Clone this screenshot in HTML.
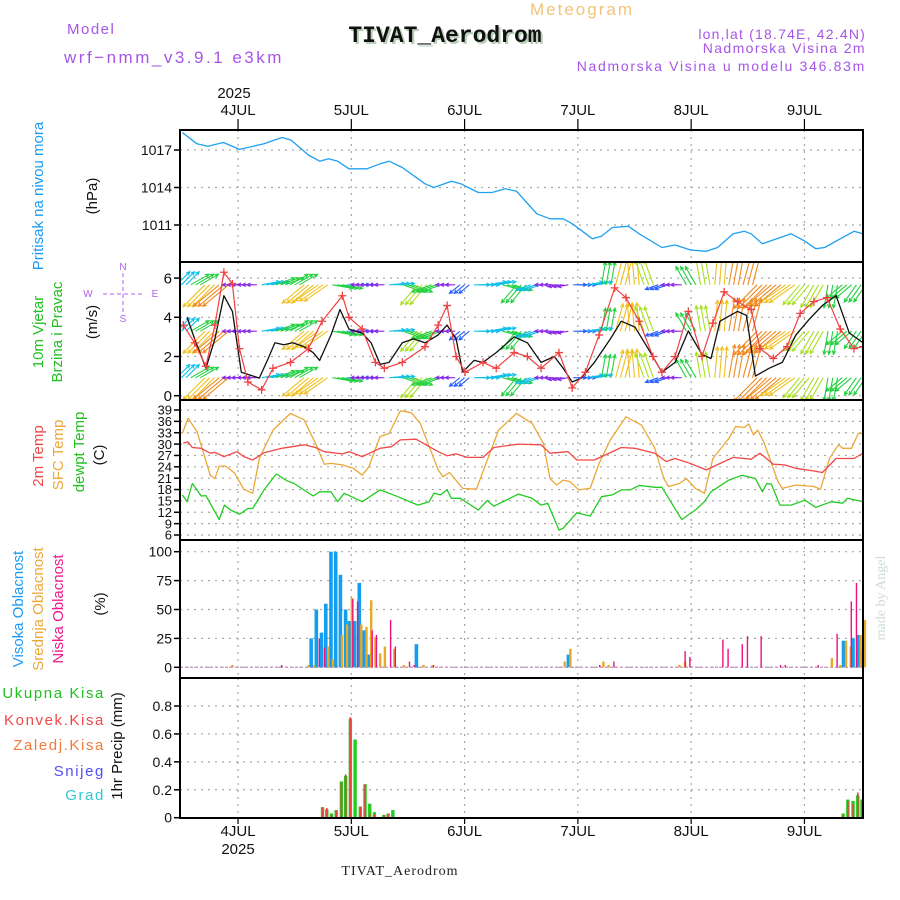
<!DOCTYPE html>
<html><head><meta charset="utf-8">
<style>
html,body{margin:0;padding:0;background:#fff;}
svg{display:block;font-family:"Liberation Sans",sans-serif;}
</style></head>
<body>
<svg id="chart" width="900" height="900" viewBox="0 0 900 900" xmlns="http://www.w3.org/2000/svg">
<defs>
<clipPath id="clipWind"><rect x="181" y="263" width="681" height="136"/></clipPath>
</defs>
<g>
<text x="582" y="15" font-size="17" fill="#f2c47a" text-anchor="middle" letter-spacing="2">Meteogram</text>
<text x="67" y="34" font-size="15" fill="#a655e8" letter-spacing="1.5">Model</text>
<text x="64" y="63" font-size="17" fill="#a655e8" letter-spacing="2.5">wrf−nmm_v3.9.1 e3km</text>
<text x="447" y="44" font-size="23" font-weight="bold" fill="#b8d0b8" text-anchor="middle" font-family="Liberation Mono, monospace">TIVAT_Aerodrom</text>
<text x="445" y="42" font-size="23" font-weight="bold" fill="#111" text-anchor="middle" font-family="Liberation Mono, monospace">TIVAT_Aerodrom</text>
<text x="866" y="39" font-size="14" fill="#a655e8" text-anchor="end" letter-spacing="1.2">lon,lat (18.74E, 42.4N)</text>
<text x="866" y="53" font-size="14" fill="#a655e8" text-anchor="end" letter-spacing="1.4">Nadmorska Visina 2m</text>
<text x="866" y="71" font-size="14" fill="#a655e8" text-anchor="end" letter-spacing="1.7">Nadmorska Visina u modelu 346.83m</text>
<text x="400" y="875" font-size="14" fill="#222" text-anchor="middle" font-family="Liberation Serif, serif" letter-spacing="1">TIVAT_Aerodrom</text>
<text transform="translate(885,598) rotate(-90)" font-size="14" fill="#cfdccf" text-anchor="middle" font-family="Liberation Serif, serif">made by Angel</text>
</g>
<g font-size="15">
<text transform="translate(43,196) rotate(-90)" fill="#1e9cf5" text-anchor="middle">Pritisak na nivou mora</text>
<text transform="translate(97,196) rotate(-90)" fill="#111" text-anchor="middle">(hPa)</text>
<text transform="translate(43,332) rotate(-90)" fill="#22c022" text-anchor="middle">10m Vjetar</text>
<text transform="translate(62,332) rotate(-90)" fill="#22c022" text-anchor="middle">Brzina i Pravac</text>
<text transform="translate(97,322) rotate(-90)" fill="#111" text-anchor="middle">(m/s)</text>
<g fill="#b060f0" stroke="none" font-size="10" text-anchor="middle">
<text x="123" y="270">N</text><text x="123" y="322">S</text><text x="88" y="297">W</text><text x="155" y="297">E</text>
<line x1="123" y1="273" x2="123" y2="313" stroke="#b060f0" stroke-dasharray="4,3"/>
<line x1="103" y1="294" x2="143" y2="294" stroke="#b060f0" stroke-dasharray="4,3"/>
</g>
<text transform="translate(43,456) rotate(-90)" fill="#f04848" text-anchor="middle">2m Temp</text>
<text transform="translate(63,455) rotate(-90)" fill="#eaaa3a" text-anchor="middle">SFC Temp</text>
<text transform="translate(84,452) rotate(-90)" fill="#22c022" text-anchor="middle">dewpt Temp</text>
<text transform="translate(104,455) rotate(-90)" fill="#111" text-anchor="middle">(C)</text>
<text transform="translate(23,609) rotate(-90)" fill="#1e9cf5" text-anchor="middle">Visoka Oblacnost</text>
<text transform="translate(43,609) rotate(-90)" fill="#eaaa3a" text-anchor="middle">Srednja Oblacnost</text>
<text transform="translate(63,609) rotate(-90)" fill="#ee1a8a" text-anchor="middle">Niska Oblacnost</text>
<text transform="translate(105,604) rotate(-90)" fill="#111" text-anchor="middle">(%)</text>
<text x="105" y="698" fill="#22c022" text-anchor="end" letter-spacing="1.6">Ukupna Kisa</text>
<text x="105" y="725" fill="#f04848" text-anchor="end" letter-spacing="1.6">Konvek.Kisa</text>
<text x="105" y="750" fill="#f57a3a" text-anchor="end" letter-spacing="1.6">Zaledj.Kisa</text>
<text x="105" y="776" fill="#5050f0" text-anchor="end" letter-spacing="1.6">Snijeg</text>
<text x="105" y="800" fill="#30c8d0" text-anchor="end" letter-spacing="1.6">Grad</text>
<text transform="translate(122,746) rotate(-90)" fill="#111" text-anchor="middle">1hr Precip (mm)</text>
</g>
<g id="plot"></g>
</svg>
<script>
// ---- data (t = hours since 3 JUL 12:00) ----
const dayLabels = ['4JUL','5JUL','6JUL','7JUL','8JUL','9JUL'];
const dayHours = [12,36,60,84,108,132];
const pressTicks = [1011,1014,1017];
const windTicks = [0,2,4,6];
const tempTicks = [6,9,12,15,18,21,24,27,30,33,36,39];
const cloudTicks = [0,25,50,75,100];
const precipTicks = [0,0.2,0.4,0.6,0.8];
const precipTickLabels = ['0','0.2','0.4','0.6','0.8'];

const pT = [0.2,3.3,5.6,8.9,12.3,17.5,21.3,23.2,26.9,29.3,31.2,33.1,35.5,39.3,42.1,44,46.8,51.6,53.5,57.2,59.2,62.9,65.8,68.6,71,75.3,78.1,80.9,82.8,87.1,89,91.3,94.7,97,101.8,104.6,107.9,111.2,113.6,116.9,119.3,120.7,123.1,129.2,132.1,134.4,136.3,139.6,142.5,144.4];
const pV = [1018.4,1017.5,1017.3,1017.6,1017.05,1017.5,1018,1017.8,1016.6,1016.1,1016.3,1016.1,1015.5,1015.5,1015.9,1016.1,1015.6,1014.3,1014,1014.5,1014.3,1013.6,1013.6,1013.9,1013.7,1011.9,1011.5,1011.5,1011.1,1009.9,1010.1,1010.8,1010.9,1010.3,1009.2,1009.4,1009.0,1008.9,1009.2,1010.3,1010.5,1010.3,1009.5,1010.3,1009.7,1009.1,1009.2,1009.9,1010.5,1010.3];

const spdT = [1.2,2.8,5.2,7.1,9,10.8,12.7,16.5,18.4,19.8,21.7,23.6,26,27.9,29.3,31.7,33.6,35.5,38.3,40.2,42.1,44,46.8,49.2,51.6,54.4,56.3,58.2,59.6,62,63.9,66.7,70.5,73.3,76.2,79,80.9,82.8,84.7,87.5,90.9,93.2,96.1,98.9,101.8,104.6,107.4,110.3,112.2,114.1,117.8,119.7,121.6,124.5,127.3,130.2,133,135.8,138.7,141.5,144.4];
const spdV = [4.0,2.9,1.4,2.9,5.1,4.3,1.2,0.9,1.9,2.7,2.6,2.7,2.5,2.2,1.8,3.1,4.4,3.4,3.2,2.7,1.6,1.7,2.7,2.9,2.7,3.1,3.6,2.9,1.2,1.8,1.7,2.2,3.0,2.7,1.7,2.0,1.4,0.7,0.9,1.7,2.9,3.8,3.5,2.4,1.2,1.7,3.3,2.1,1.9,3.8,4.3,4.1,1.0,1.4,1.7,3.1,3.9,4.6,5.1,3.2,2.7];
const gustT = [0.4,2.8,5.2,7.1,9,10.8,12.3,14.1,17,19.4,23.1,26.9,29.8,34.1,35.5,38.3,41.1,43,46.8,51.6,54.4,56.3,58.2,60.1,63.9,66.7,70.5,73.3,76.2,80,82.8,85.6,88.5,91.8,94.2,97,99.9,101.8,104.6,107.4,110.3,112.6,115,117.8,120.7,122.6,125.4,128.3,131.1,134,136.8,139.6,142.5,144.4];
const gustV = [3.6,2.7,1.5,3.6,6.3,5.7,2.4,0.7,0.3,1.4,1.7,2.4,3.8,5.1,4.0,3.4,1.7,1.4,1.7,2.5,3.6,4.6,2.0,1.2,1.7,1.4,2.2,2.0,1.4,2.2,0.4,1.2,3.1,5.5,5.0,3.8,2.0,1.2,2.0,4.3,2.0,3.7,5.3,4.8,4.4,2.4,1.9,2.5,4.2,4.8,5.0,3.4,2.4,2.5];

const windT = [0,3,6,9,12,15,18,21,24,27,30,33,36,39,42,45,48,51,54,57,60,63,66,69,72,75,78,81,84,87,90,93,96,99,102,105,108,111,114,117,120,123,126,129,132,135,138,141,144];
const windDir = [45,30,225,220,180,180,10,20,30,220,215,-10,0,180,180,5,-20,230,200,180,220,0,10,-15,230,200,180,190,0,10,80,75,95,110,200,180,120,100,85,80,75,225,220,215,230,240,260,220,235];
const windSpd = [2.5,3,5,5.5,1,0.8,2.5,2.8,3,4.5,4.5,3,2.5,0.8,0.8,2,3,4,3,0.8,1.5,2,2.5,3,3.5,2,0.8,1,1.5,2,3.5,4.5,4.5,4,1.5,1,3,4,5,5.5,5.5,5.5,5.5,5,4,4,3.5,3,3];
const windRows = [5.66,3.29,0.92];

const t2T = [0.4,1.4,2.3,4.2,6.1,7.1,9,11.8,13.2,15.1,17.5,21.3,26,28.4,30.3,34.1,35.5,38.3,42.1,44.5,46.4,49.7,54.4,56.3,58.2,60.6,63.9,66.2,71.4,76.2,78.1,81.9,83.8,87.5,93.2,96.1,100.3,102.7,104.6,107.4,111.2,116.9,120.7,122.6,125.4,127.8,130.2,134,135.8,138.7,142.5,144.4];
const t2V = [30.2,30.6,29.1,28.9,27.6,27.8,26.7,28,26.7,25.8,27.7,28.9,29.8,29.1,28,27.4,28,26.7,28.9,29.3,31.1,31.3,28,26.9,27.4,26.5,26.5,29.1,30,29.8,27.6,28,25.8,25.8,29.1,28.9,27.6,25.4,26.2,25.1,23.2,26.5,26,27.6,24.7,24.5,23.6,22.9,22.5,26.2,26.2,27.6];
const sfcT = [0.2,1.4,3.3,6.1,7.1,8,9.4,11.3,13.2,15.1,16.5,19.4,23.1,26,28.4,30.3,31.7,34.1,36.4,38.3,39.7,42.1,44,46.4,48.7,50.6,54.4,55.4,56.8,59.6,62.5,64.8,67.2,71,74.3,76.7,78.1,79.5,80.9,82.3,84.2,86.6,88.5,90.9,94.2,97.5,100.3,102.2,103.2,105.5,107,108.9,110.8,112.6,116,117.4,119.3,120.2,121.2,122.1,123.5,126.4,127.3,130.2,134,135.4,137.3,139.2,140.1,142,143.4,144.4];
const sfcV = [32.8,36.8,33.3,21.8,20.9,24.2,24.2,22.3,18.1,17,26.2,33.7,38.1,36.4,30.2,24.7,24.9,24.5,23.6,21.8,24,32,32.8,38.8,38.3,35.5,23.2,21.4,22.5,18.3,18.1,25.8,33.7,38.1,35.5,30.2,20.9,19.2,20.5,20.1,17.9,18.3,24.9,31.1,37.2,35,28.9,20.9,18.8,19.6,20.9,18.3,17,26.2,31.5,34.6,34.4,35.3,32.4,33.7,30.2,20.1,18.3,19.2,18.8,18.1,26.2,29.8,28.9,28.9,32.8,32.8];
const dewT = [0.2,1.2,2.3,4.2,5.2,8,9.1,10.4,12.3,14.1,15.1,17.5,20.1,22.4,23.9,27.9,29.3,31.7,33.1,34.5,38.3,42.1,45.9,50.1,52.5,53.5,54.9,56.3,57.2,59.1,62.9,64.8,66.2,71.4,74.3,76.2,77.6,80,80.9,83.8,86.6,89,91.3,93.2,95.1,97,100.3,101.8,106,108.9,110.8,112.2,116,118.8,121.6,123.1,124,125,126.8,129.2,132.1,134.4,137.7,140.1,141.1,144.4];
const dewV = [16.6,14.8,19.6,16.3,16.4,10.1,13.9,12.6,11.5,13,13,17.9,22.1,20.3,19.6,16.3,17.4,17.4,14.8,17,14.8,17.9,16.1,13.9,14.8,17,16.6,17.9,15.7,15.7,12.6,15.1,13.6,16.8,15.7,13.9,14.4,7.3,7.8,11.9,11,16.1,16.6,17.9,17.9,19.1,18.6,18.6,10.1,12.6,14.8,17.4,20.5,21.8,20.9,17.4,19.6,19.4,13.9,13.9,15.2,13.3,14.8,14.4,15.7,14.8];

const highT = [27.7,28.8,29.9,30.8,31.9,32.9,33.9,35,35.8,36.9,37.9,38.9,39.8,50,82.2,140.5,142.5,143.6,144.5];
const highV = [25,50,30,55,100,100,80,50,40,40,73,32,11,20,11,23,25,28,15];
const midT = [10.6,26.7,27.9,30.9,31.9,33.8,34.9,35.9,37.9,39,40,40.9,41.9,42.9,44.9,46.9,51.1,53,81,82.2,89.2,90.3,105.3,106.5,137.6,139.4,140.6,141.6,143.7,144.6];
const midV = [2,2,2,18,7,28,37,60,37,35,58,26,12,18,16,2,2,2,5,16,5,2,2,5,8,2,23,18,28,41];
const lowT = [20.8,28.8,29.9,35.9,36.9,40,40.9,43.9,44.9,47.9,48.9,53,88.2,91.2,106.3,107.3,114.3,115.4,118.4,119.5,122.4,126.5,127.5,134.5,138.5,141.5,142.6];
const lowV = [2,25,17,59,57,32,28,41,18,5,2,2,2,5,14,9,24,16,20,27,27,2,2,2,29,57,73];

const rainT = [29.9,30.8,31.8,32.8,33.9,34.8,35.8,36.8,37.9,38.9,39.9,40.9,42.9,43.8,44.8,140.2,141.2,142.3,143.3,144.2];
const rainTotal = [0.075,0.06,0.03,0.055,0.26,0.3,0.71,0.56,0.08,0.24,0.1,0.04,0.02,0.03,0.055,0.03,0.13,0.12,0.16,0.13];
const rainConv = [0.075,0.07,0.02,0.05,0.25,0.31,0.72,0.0,0.08,0.24,0.03,0.02,0.02,0.03,0.0,0.02,0.12,0.1,0.18,0.12];

// ---- geometry ----
const X0 = 181.4, XPH = 4.72, XL = 180, XR = 863;
const xs = t => X0 + t * XPH;
const yP = p => 150 + (1017 - p) * 12.5;
const yW = v => 395.7 - v * 19.6;
const yT = c => 410 + (39 - c) * 3.788;
const yC = c => 667.3 - c * 1.156;
const yR = r => 817.7 - r * 139.6;
const panels = [
  {name:'pressure-panel', y0:130, y1:262},
  {name:'wind-panel', y0:262, y1:400},
  {name:'temperature-panel', y0:400, y1:540},
  {name:'cloud-panel', y0:540, y1:678},
  {name:'precip-panel', y0:678, y1:818}
];

const NS = 'http://www.w3.org/2000/svg';
const plot = document.getElementById('plot');
function mk(tag, attrs, parent) {
  const el = document.createElementNS(NS, tag);
  for (const k in attrs) el.setAttribute(k, attrs[k]);
  (parent || plot).appendChild(el);
  return el;
}
function gEl(name) {
  const g = mk('g', {});
  
  
  return g;
}
function poly(ts, vs, yf, color, name, w, parent) {
  const pts = ts.map((t, i) => xs(t).toFixed(1) + ',' + yf(vs[i]).toFixed(1)).join(' ');
  const el = mk('polyline', {points: pts, fill: 'none', stroke: color, 'stroke-width': w || 1.3, 'stroke-linejoin': 'round'}, parent);
  
  
  return el;
}

// grids
const grid = gEl('grid');
panels.forEach(p => {
  dayHours.forEach(h => {
    const l = mk('line', {x1: xs(h), x2: xs(h), y1: p.y0, y2: p.y1, stroke: '#a8a8a8', 'stroke-width': 1.2, 'stroke-dasharray': '2,5'}, grid);
    
    
  });
});
function hgrid(ticks, yf, labels, fs, name) {
  const g = gEl(name);
  ticks.forEach((v, i) => {
    const y = yf(v);
    const l = mk('line', {x1: XL, x2: XR, y1: y, y2: y, stroke: '#a8a8a8', 'stroke-width': 1.2, 'stroke-dasharray': '2,5'}, g);
    
    
    const tk = mk('line', {x1: XL - 6, x2: XL, y1: y, y2: y, stroke: '#000', 'stroke-width': 1.5}, g);
    
    
    const tx = mk('text', {x: XL - 8, y: y + fs * 0.36, 'font-size': fs, 'text-anchor': 'end', fill: '#111'}, g);
    
    
    tx.textContent = labels ? labels[i] : String(v);
  });
}
hgrid(pressTicks, yP, null, 14, 'pressure-y-axis');
hgrid(windTicks, yW, null, 15, 'wind-y-axis');
hgrid(tempTicks, yT, null, 13, 'temperature-y-axis');
hgrid(cloudTicks, yC, null, 14, 'cloud-y-axis');
hgrid(precipTicks, yR, precipTickLabels, 14, 'precip-y-axis');

// pressure
poly(pT, pV, yP, '#1ea0f2', 'pressure-line', 1.3);

// wind arrows
const windG = gEl('wind-arrows');
windG.setAttribute('clip-path', 'url(#clipWind)');
function spdColor(s) {
  if (s < 1.2) return '#8a28e8';
  if (s < 2) return '#2860ff';
  if (s < 2.8) return '#10c0e8';
  if (s < 3.6) return '#22d040';
  if (s < 4.4) return '#a8e020';
  if (s < 5.2) return '#f0c020';
  return '#f08a20';
}
windRows.forEach(rv => {
  const y = yW(rv);
  windT.forEach((t, i) => {
    const len = 6 + windSpd[i] * 5;
    const a = windDir[i] * Math.PI / 180;
    const col = spdColor(windSpd[i]);
    [-1, 0, 1].forEach(off => {
      const x = xs(t + off);
      const x2 = x + Math.cos(a) * len, y2 = y - Math.sin(a) * len;
      const h1 = a + Math.PI - 0.45, h2 = a + Math.PI + 0.45;
      const ar = mk('path', {d: 'M' + x.toFixed(1) + ',' + y.toFixed(1) + 'L' + x2.toFixed(1) + ',' + y2.toFixed(1) +
        'M' + (x2 + Math.cos(h1) * 4).toFixed(1) + ',' + (y2 - Math.sin(h1) * 4).toFixed(1) + 'L' + x2.toFixed(1) + ',' + y2.toFixed(1) +
        'L' + (x2 + Math.cos(h2) * 4).toFixed(1) + ',' + (y2 - Math.sin(h2) * 4).toFixed(1),
        stroke: col, 'stroke-width': 1.1, fill: 'none'}, windG);
      
      
    });
  });
});
const wl = gEl('wind-lines');
wl.setAttribute('clip-path', 'url(#clipWind)');
poly(spdT, spdV, yW, '#111', 'wind-speed-line', 1.3, wl);
poly(gustT, gustV, yW, '#f04040', 'wind-gust-line', 1.2, wl);
gustT.forEach((t, i) => {
  const x = xs(t), y = yW(gustV[i]);
  const m = mk('path', {d: 'M' + (x - 4) + ',' + y + 'h8M' + x + ',' + (y - 4) + 'v8', stroke: '#f04040', 'stroke-width': 1.3}, wl);
  
  
});

// temperature
poly(sfcT, sfcV, yT, '#eaa838', 'sfc-temp-line', 1.3);
poly(t2T, t2V, yT, '#f04848', 'temp-2m-line', 1.3);
poly(dewT, dewV, yT, '#22cc22', 'dewpoint-line', 1.3);

// clouds
const cg = gEl('cloud-bars');
const base = mk('line', {x1: XL, x2: XR, y1: yC(0), y2: yC(0), stroke: '#c8a0c8', 'stroke-width': 1.5, 'stroke-dasharray': '3,2'}, cg);


function bars(ts, vs, yf, col, w, dx, name, parent) {
  ts.forEach((t, i) => {
    const y = yf(vs[i]), y0 = yf(0);
    const r = mk('rect', {x: xs(t) + dx - w / 2, y: y, width: w, height: Math.max(0.5, y0 - y), fill: col}, parent);
    
    
  });
}
bars(highT, highV, yC, '#149ef0', 3.6, -1, 'high-cloud-bar', cg);
bars(midT, midV, yC, '#e8a828', 2.4, 1, 'mid-cloud-bar', cg);
bars(lowT, lowV, yC, '#ee1080', 1.4, 2, 'low-cloud-bar', cg);

// precipitation
const pg = gEl('precip-bars');
bars(rainT, rainTotal, yR, '#22cc22', 3.4, 0, 'total-rain-bar', pg);
bars(rainT, rainConv, yR, '#f04040', 1.6, 0, 'convective-rain-bar', pg);

// panel borders
panels.forEach(p => {
  const r = mk('rect', {x: XL, y: p.y0, width: XR - XL, height: p.y1 - p.y0, fill: 'none', stroke: '#000', 'stroke-width': 2});
  
  
});

// date labels
const dl = gEl('date-axis');
dayHours.forEach((h, i) => {
  const x = xs(h);
  const top = mk('text', {x: x, y: 115, 'font-size': 15, 'text-anchor': 'middle', fill: '#111'}, dl);
  
  
  top.textContent = dayLabels[i];
  const bot = mk('text', {x: x, y: 836, 'font-size': 15, 'text-anchor': 'middle', fill: '#111'}, dl);
  
  
  bot.textContent = dayLabels[i];
  const tk = mk('line', {x1: x, x2: x, y1: 119, y2: 130, stroke: '#000', 'stroke-width': 1.2}, dl);
  
  
  const tk2 = mk('line', {x1: x, x2: x, y1: 818, y2: 824, stroke: '#000', 'stroke-width': 1.2}, dl);
  
  
});
const yr1 = mk('text', {x: xs(dayHours[0]) - 4, y: 98, 'font-size': 15, 'text-anchor': 'middle', fill: '#111'}, dl);


yr1.textContent = '2025';
const yr2 = mk('text', {x: xs(dayHours[0]), y: 854, 'font-size': 15, 'text-anchor': 'middle', fill: '#111'}, dl);


yr2.textContent = '2025';
</script>
</body></html>
